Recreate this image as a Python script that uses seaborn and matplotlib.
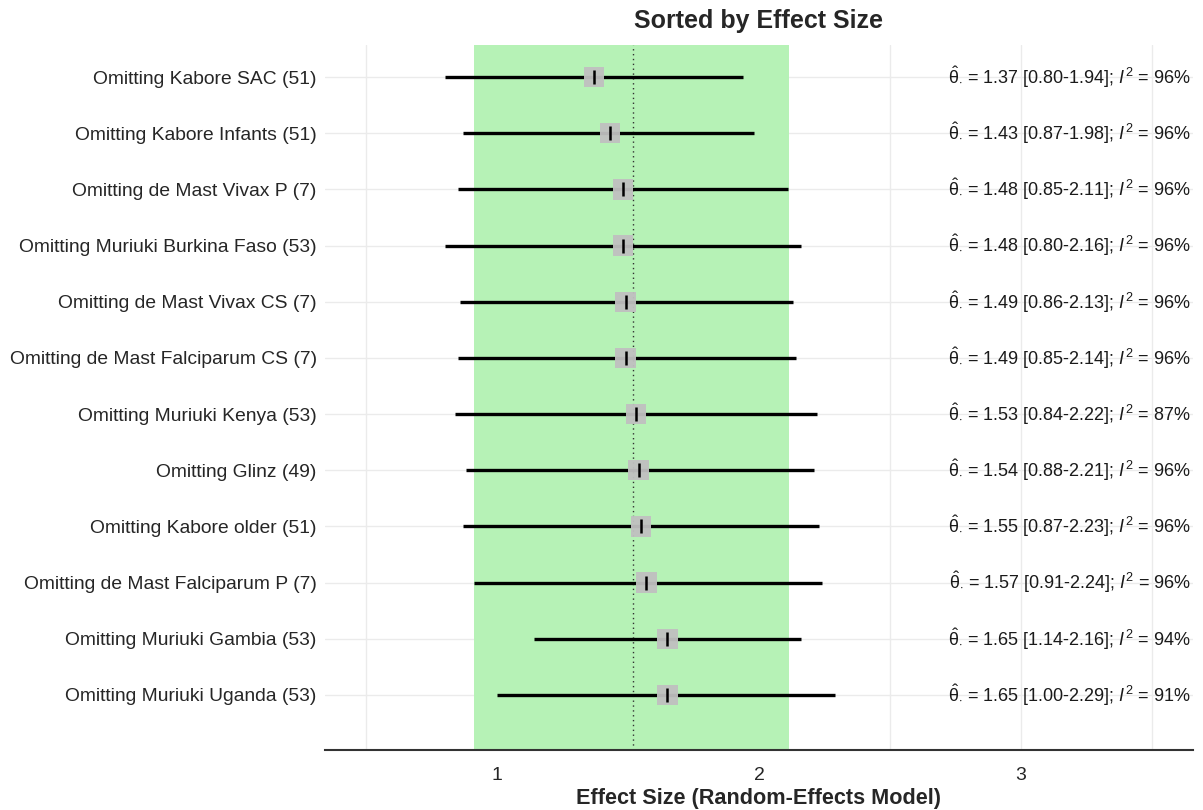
import matplotlib
matplotlib.use("Agg")
import matplotlib.pyplot as plt
import seaborn as sns
import numpy as np
import pandas as pd

labels = [
    "Omitting Kabore SAC (51)",
    "Omitting Kabore Infants (51)",
    "Omitting de Mast Vivax P (7)",
    "Omitting Muriuki Burkina Faso (53)",
    "Omitting de Mast Vivax CS (7)",
    "Omitting de Mast Falciparum CS (7)",
    "Omitting Muriuki Kenya (53)",
    "Omitting Glinz (49)",
    "Omitting Kabore older (51)",
    "Omitting de Mast Falciparum P (7)",
    "Omitting Muriuki Gambia (53)",
    "Omitting Muriuki Uganda (53)",
]
estimate = [1.37, 1.43, 1.48, 1.48, 1.49, 1.49, 1.53, 1.54, 1.55, 1.57, 1.65, 1.65]
lower = [0.80, 0.87, 0.85, 0.80, 0.86, 0.85, 0.84, 0.88, 0.87, 0.91, 1.14, 1.00]
upper = [1.94, 1.98, 2.11, 2.16, 2.13, 2.14, 2.22, 2.21, 2.23, 2.24, 2.16, 2.29]
i2 = [96, 96, 96, 96, 96, 96, 87, 96, 96, 96, 94, 91]

pooled_est = 1.52
pooled_lower = 0.91
pooled_upper = 2.115

n = len(labels)
df = pd.DataFrame({"label": labels, "est": estimate, "lo": lower, "hi": upper, "i2": i2})
df["y"] = n - np.arange(n)

sns.set_theme(style="white")
plt.rcParams["font.family"] = ["Liberation Sans", "DejaVu Sans"]
plt.rcParams["mathtext.fontset"] = "custom"
plt.rcParams["mathtext.rm"] = "Liberation Sans"
plt.rcParams["mathtext.it"] = "Liberation Sans:italic"
plt.rcParams["mathtext.bf"] = "Liberation Sans:bold"

fig = plt.figure(figsize=(12.03, 8.10), dpi=100)
ax = fig.add_axes([325 / 1203, 60 / 810, 868 / 1203, 705 / 810])

xmin, xmax = 0.343, 3.656
ax.set_xlim(xmin, xmax)
ax.set_ylim(0.02, n + 0.57)

# grid
grid_c = "#EBEBEB"
for gx in [0.5, 1, 1.5, 2, 2.5, 3, 3.5]:
    ax.axvline(gx, color=grid_c, lw=1.0, zorder=0)
for gy in df["y"]:
    ax.axhline(gy, color=grid_c, lw=1.0, zorder=0)

# pooled CI band and estimate
ax.axvspan(pooled_lower, pooled_upper, color="#B6F2B6", zorder=1, lw=0)
ax.axvline(pooled_est, color="#333333", lw=1.0, ls=(0, (1, 2.5)), zorder=2)

# CI lines
ax.hlines(df["y"], df["lo"], df["hi"], color="black", lw=2.4, zorder=3)

# squares
sns.scatterplot(data=df, x="est", y="y", marker="s", s=215, color="#C0C0C0",
                alpha=0.95, edgecolor="none", ax=ax, zorder=4, legend=False)
sns.scatterplot(data=df, x="est", y="y", marker="|", s=100, color="black",
                linewidth=1.8, ax=ax, zorder=5, legend=False)

# annotations
for _, r in df.iterrows():
    txt = (r"$\hat{\mathrm{\theta}}_{\cdot}$" + f" = {r['est']:.2f} [{r['lo']:.2f}-{r['hi']:.2f}]; "
           + r"$I^2$" + f" = {int(r['i2'])}%")
    ax.text(3.647, r["y"], txt, ha="right", va="center", fontsize=13, color="#1A1A1A", zorder=6)

ax.set_yticks(df["y"])
ax.set_yticklabels(df["label"], fontsize=13.9, color="#262626")
ax.set_xticks([1, 2, 3])
ax.set_xticklabels(["1", "2", "3"], fontsize=14, color="#262626")
ax.tick_params(axis="y", length=0, pad=6)
ax.tick_params(axis="x", length=4, width=1.0, color="#333333", direction="out", pad=8)

for s in ["left", "right", "top"]:
    ax.spines[s].set_visible(False)
ax.spines["bottom"].set_color("#333333")
ax.spines["bottom"].set_linewidth(1.5)

ax.set_xlabel("Effect Size (Random-Effects Model)", fontsize=15.6, fontweight="bold", labelpad=3)
ax.set_ylabel("")
ax.set_title("Sorted by Effect Size", fontsize=18, fontweight="bold", pad=12)

fig.savefig("out.png", dpi=100)
